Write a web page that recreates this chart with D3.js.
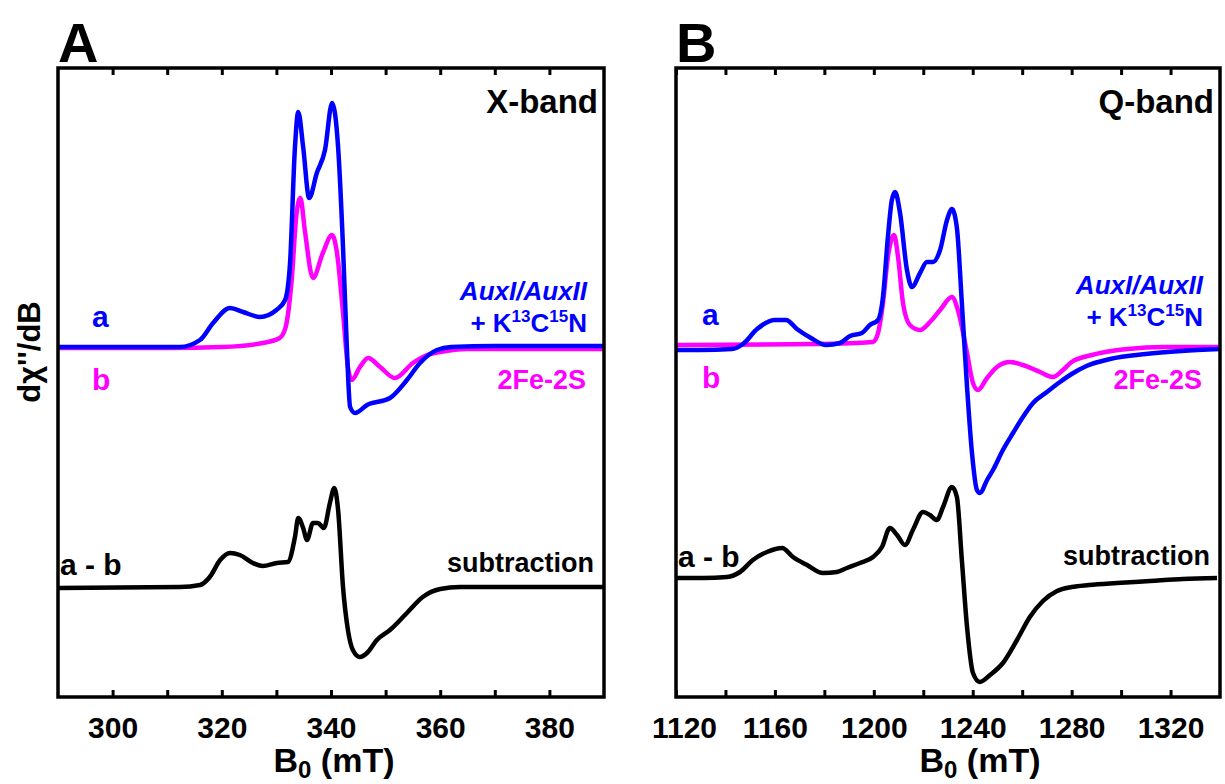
<!DOCTYPE html>
<html>
<head>
<meta charset="utf-8">
<script src="https://cdn.jsdelivr.net/npm/d3@7"></script>
<style>
  body { margin: 0; background: #fff; }
  svg { display: block; font-family: "Liberation Sans", Arial, sans-serif; font-weight: bold; }
</style>
</head>
<body>
<svg id="chart" width="1225" height="784"></svg>
<script>
// X-band spectra (field in mT, signal in arbitrary units)
var xTicks = [300, 310, 320, 330, 340, 350, 360, 370, 380];
var xTickLabels = [300, 320, 340, 360, 380];

var xTraceA = [[290, 0], [300, 0], [312.3, 0], [316, 0.07], [318.4, 0.24], [321.5, 0.39], [323.9, 0.35],
    [327, 0.30], [330, 0.37], [331.6, 0.47], [332.5, 0.84], [333.4, 2.0], [334, 2.35], [334.9, 2.0],
    [336, 1.49], [337.4, 1.74], [338.9, 1.97], [340.2, 2.44], [341.3, 2.0], [342.2, 1.0], [342.9, 0],
    [343.5, -0.6], [344.4, -0.66], [346.6, -0.58], [350.8, -0.51], [353.9, -0.33], [356.3, -0.16],
    [359.4, -0.03], [362, 0], [370, 0.01], [380, 0.01], [390, 0.01]];

var xTraceB = [[290, -0.01], [310, -0.01], [320, 0], [327.5, 0.04], [330.6, 0.09], [331.7, 0.2],
    [332.8, 0.67], [333.7, 1.34], [334.4, 1.49], [335.2, 1.17], [336.7, 0.69], [338.5, 0.94],
    [340.2, 1.12], [341.1, 0.94], [342.2, 0.34], [343.1, -0.2], [343.8, -0.33], [345.3, -0.2],
    [346.8, -0.11], [349, -0.2], [351.7, -0.31], [355, -0.16], [357.6, -0.08], [360, -0.05],
    [365, -0.02], [390, -0.02]];

var xTraceSub = [[290, -0.01], [312.3, 0], [316, 0.02], [317.8, 0.1], [319.7, 0.27], [321.5, 0.34],
    [323.3, 0.32], [325.7, 0.24], [327.5, 0.21], [330.1, 0.24], [332.1, 0.25], [333.4, 0.5],
    [334, 0.69], [334.9, 0.59], [335.6, 0.47], [336.7, 0.64], [337.6, 0.64], [338.7, 0.59],
    [339.8, 0.84], [340.6, 0.99], [341.3, 0.77], [342.2, 0], [343.1, -0.43], [344, -0.63],
    [345.3, -0.7], [346.6, -0.66], [348.4, -0.53], [350.8, -0.43], [353.9, -0.26], [356.8, -0.1],
    [360, -0.02], [363.6, 0], [390, 0]];

// Q-band spectra
var qTicks = [1120, 1140, 1160, 1180, 1200, 1220, 1240, 1260, 1280, 1300, 1320];
var qTickLabels = [1120, 1160, 1200, 1240, 1280, 1320];

var qTraceA = [[1120, -0.05], [1129.7, -0.05], [1142.6, -0.04], [1147.1, 0.01], [1152.8, 0.16],
    [1160, 0.25], [1164.5, 0.25], [1168.9, 0.16], [1174.6, 0.07], [1180.7, 0], [1186.3, 0.02],
    [1190.4, 0.09], [1195.2, 0.12], [1198.4, 0.2], [1201.7, 0.25], [1203.7, 0.48], [1205.7, 1.08],
    [1207.3, 1.45], [1208.6, 1.53], [1210.6, 1.32], [1213.4, 0.75], [1215.4, 0.58], [1218.7, 0.72],
    [1221.5, 0.83], [1223.9, 0.83], [1226.8, 0.95], [1229.6, 1.25], [1231.6, 1.36], [1233.6, 1.17],
    [1235.6, 0.42], [1237.7, -0.42], [1239.7, -1.08], [1241.7, -1.45], [1242.9, -1.48],
    [1245.8, -1.35], [1248.2, -1.25], [1252.2, -1.05], [1256.3, -0.88], [1260.3, -0.72],
    [1264.4, -0.58], [1270, -0.47], [1275.3, -0.37], [1280, -0.29], [1286, -0.21],
    [1295.5, -0.14], [1310, -0.09], [1324.5, -0.06], [1340, -0.04]];

var qTraceB = [[1120, 0], [1178, 0.01], [1199.7, 0.03], [1201.7, 0.12], [1203.7, 0.42], [1205.7, 0.88],
    [1208.2, 1.1], [1209.8, 0.88], [1211.8, 0.42], [1214.6, 0.2], [1218.7, 0.15], [1222.7, 0.23],
    [1226.8, 0.35], [1231.6, 0.48], [1234, 0.35], [1237.7, -0.08], [1240.1, -0.38], [1242.1, -0.45],
    [1245.8, -0.33], [1249.8, -0.22], [1255.1, -0.17], [1260.3, -0.2], [1267.2, -0.27],
    [1272.4, -0.32], [1276.5, -0.25], [1280, -0.17], [1288.2, -0.1], [1302.7, -0.04],
    [1317.2, -0.02], [1340, -0.02]];

var qTraceSub = [[1120, 0], [1131, 0], [1140.6, 0.01], [1145.9, 0.06], [1151.1, 0.18], [1156.8, 0.26],
    [1162.9, 0.3], [1167.3, 0.21], [1173, 0.13], [1179.4, 0.05], [1185.1, 0.06], [1189.1, 0.1],
    [1194.4, 0.15], [1199.7, 0.21], [1203.3, 0.31], [1206.5, 0.5], [1209.4, 0.43], [1212.6, 0.33],
    [1215.8, 0.48], [1219.9, 0.66], [1222.7, 0.63], [1225.5, 0.58], [1228, 0.71], [1231.6, 0.91],
    [1233.6, 0.81], [1235.6, 0.18], [1237.7, -0.49], [1240.1, -0.95], [1242.9, -1.04], [1247, -0.97],
    [1252.2, -0.85], [1257.9, -0.62], [1263.1, -0.39], [1268.4, -0.23], [1274.1, -0.13],
    [1280, -0.09], [1287, -0.07], [1298.3, -0.05], [1311.7, -0.03], [1325, -0.01], [1338.8, 0]];

var svg = d3.select("#chart");
var top_ = 68, bottom = 697;

var y = d3.scaleLinear().domain([-3.5, 2.79]).range([bottom, top_]);

function drawPanel(p) {
    var x = d3.scaleLinear().domain(p.domain).range([p.left, p.right]);
    var g = svg.append("g");

    var line = d3.line()
        .x(function(d) { return x(d[0]); })
        .curve(d3.curveMonotoneX);

    // traces: b below a, subtraction offset down
    [[p.b, "#ff00ff", p.off], [p.a, "#0000ff", p.off], [p.sub, "#000", p.subOff]].forEach(function(t) {
        g.append("path")
            .datum(t[0])
            .attr("fill", "none")
            .attr("stroke", t[1])
            .attr("stroke-width", 4.5)
            .attr("stroke-linejoin", "round")
            .attr("d", line.y(function(d) { return y(d[1] + t[2]); }));
    });

    // bottom axis, ticks pointing inward
    var axB = g.append("g")
        .attr("transform", "translate(0," + bottom + ")")
        .call(d3.axisBottom(x).tickValues(p.ticks).tickSizeInner(-7).tickSizeOuter(0).tickPadding(20)
            .tickFormat(function(d) { return p.labels.indexOf(d) >= 0 ? d : ""; }));
    axB.selectAll("text").attr("font-size", 30).attr("font-family", "Liberation Sans, Arial")
        .attr("font-weight", "bold").attr("fill", "#000")
        .attr("dx", function(d) { return d === p.domain[0] ? p.firstShift : 0; });
    var axT = g.append("g")
        .attr("transform", "translate(0," + top_ + ")")
        .call(d3.axisTop(x).tickValues(p.ticks).tickSizeInner(-7).tickSizeOuter(0).tickFormat(""));
    [axB, axT].forEach(function(a) {
        a.select(".domain").remove();
        a.selectAll(".tick line").attr("stroke", "#000").attr("stroke-width", 3);
    });

    g.append("rect")
        .attr("x", p.left).attr("y", top_)
        .attr("width", p.right - p.left).attr("height", bottom - top_)
        .attr("fill", "none").attr("stroke", "#000").attr("stroke-width", 3.5);

    // panel letter and band name
    g.append("text").attr("x", p.left).attr("y", 62).attr("font-size", 56).text(p.letter);
    g.append("text").attr("x", p.right - 6).attr("y", 113).attr("font-size", 33)
        .attr("text-anchor", "end").text(p.band);

    // trace labels
    g.append("text").attr("x", p.aX).attr("y", p.aY).attr("font-size", 30).attr("fill", "#0000ff").text("a");
    g.append("text").attr("x", p.aX).attr("y", p.aY + 63).attr("font-size", 30).attr("fill", "#ff00ff").text("b");
    g.append("text").attr("x", p.right - 17).attr("y", p.auxY).attr("font-size", 26).attr("font-style", "italic")
        .attr("text-anchor", "end").attr("fill", "#0000ff").text("AuxI/AuxII");
    var k = g.append("text").attr("x", p.right - 17).attr("y", p.auxY + 32).attr("font-size", 26)
        .attr("text-anchor", "end").attr("fill", "#0000ff");
    k.append("tspan").text("+ K");
    k.append("tspan").attr("font-size", 17).attr("dy", -10).text("13");
    k.append("tspan").attr("dy", 10).text("C");
    k.append("tspan").attr("font-size", 17).attr("dy", -10).text("15");
    k.append("tspan").attr("dy", 10).text("N");
    g.append("text").attr("x", p.right - 18).attr("y", 389).attr("font-size", 27)
        .attr("text-anchor", "end").attr("fill", "#ff00ff").text("2Fe-2S");
    g.append("text").attr("x", p.left + 2).attr("y", p.abY).attr("font-size", 30).attr("xml:space", "preserve")
        .text("a - b");
    g.append("text").attr("x", p.right - 10).attr("y", p.subY).attr("font-size", 27)
        .attr("text-anchor", "end").text("subtraction");

    // x-axis title
    var t = g.append("text").attr("x", p.titleX).attr("y", 772).attr("font-size", 34)
        .attr("text-anchor", "middle");
    t.append("tspan").text("B");
    t.append("tspan").attr("font-size", 24).attr("dy", 6).text("0");
    t.append("tspan").attr("dy", -6).text(" (mT)");
}

drawPanel({ letter: "A", band: "X-band", domain: [290, 390], left: 58, right: 604,
    ticks: xTicks, labels: xTickLabels, a: xTraceA, b: xTraceB, sub: xTraceSub,
    off: 0, subOff: -2.4, aX: 92, aY: 327, auxY: 300, abY: 575, subY: 572, titleX: 334, firstShift: 0 });

drawPanel({ letter: "B", band: "Q-band", domain: [1120, 1340], left: 676, right: 1220,
    ticks: qTicks, labels: qTickLabels, a: qTraceA, b: qTraceB, sub: qTraceSub,
    off: 0.02, subOff: -2.31, aX: 702, aY: 325, auxY: 294, abY: 567, subY: 565, titleX: 980, firstShift: 8 });

// y-axis title
svg.append("text")
    .attr("transform", "translate(40,352) rotate(-90)")
    .attr("text-anchor", "middle")
    .attr("font-size", 31)
    .text("dχ''/dB");
</script>
</body>
</html>
